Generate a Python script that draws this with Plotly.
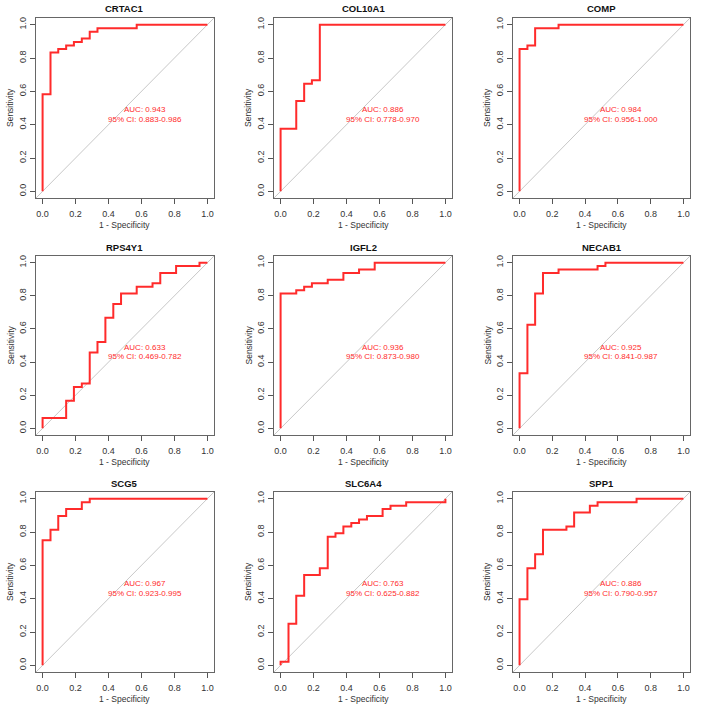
import plotly.graph_objects as go

genes = ["CRTAC1", "COL10A1", "COMP", "RPS4Y1", "IGFL2", "NECAB1", "SCG5", "SLC6A4", "SPP1"]
auc = [0.943, 0.886, 0.984, 0.633, 0.936, 0.925, 0.967, 0.763, 0.886]
ci_low = [0.883, 0.778, 0.956, 0.469, 0.873, 0.841, 0.923, 0.625, 0.790]
ci_high = [0.986, 0.970, 1.000, 0.782, 0.980, 0.987, 0.995, 0.882, 0.957]

# step corners of each ROC curve (1 - specificity, sensitivity)
crtac1_fpr = [0, 0, 0.048, 0.095, 0.143, 0.190, 0.238, 0.286, 0.333, 0.571, 1]
crtac1_tpr = [0, 0.583, 0.833, 0.854, 0.875, 0.896, 0.917, 0.958, 0.979, 1, 1]

col10a1_fpr = [0, 0, 0.095, 0.143, 0.190, 0.238, 1]
col10a1_tpr = [0, 0.375, 0.542, 0.646, 0.667, 1, 1]

comp_fpr = [0, 0, 0.048, 0.095, 0.238, 1]
comp_tpr = [0, 0.854, 0.875, 0.979, 1, 1]

rps4y1_fpr = [0, 0, 0.143, 0.190, 0.238, 0.286, 0.333, 0.381, 0.429, 0.476, 0.571, 0.667, 0.714, 0.810, 0.952, 1]
rps4y1_tpr = [0, 0.063, 0.167, 0.250, 0.271, 0.458, 0.521, 0.667, 0.750, 0.813, 0.854, 0.875, 0.938, 0.979, 1, 1]

igfl2_fpr = [0, 0, 0.095, 0.143, 0.190, 0.286, 0.381, 0.476, 0.571, 1]
igfl2_tpr = [0, 0.813, 0.833, 0.854, 0.875, 0.896, 0.938, 0.958, 1, 1]

necab1_fpr = [0, 0, 0.048, 0.095, 0.143, 0.238, 0.476, 0.524, 1]
necab1_tpr = [0, 0.333, 0.625, 0.813, 0.938, 0.958, 0.979, 1, 1]

scg5_fpr = [0, 0, 0.048, 0.095, 0.143, 0.238, 0.286, 1]
scg5_tpr = [0, 0.750, 0.813, 0.896, 0.938, 0.979, 1, 1]

slc6a4_fpr = [0, 0, 0.048, 0.095, 0.143, 0.238, 0.286, 0.333, 0.381, 0.429, 0.476, 0.524, 0.619, 0.667, 0.762, 1]
slc6a4_tpr = [0, 0.021, 0.250, 0.417, 0.542, 0.583, 0.771, 0.792, 0.833, 0.854, 0.875, 0.896, 0.938, 0.958, 0.979, 1]

spp1_fpr = [0, 0, 0.048, 0.095, 0.143, 0.286, 0.333, 0.429, 0.476, 0.714, 1]
spp1_tpr = [0, 0.396, 0.583, 0.667, 0.813, 0.833, 0.917, 0.958, 0.979, 1, 1]

curves = [
    (crtac1_fpr, crtac1_tpr), (col10a1_fpr, col10a1_tpr), (comp_fpr, comp_tpr),
    (rps4y1_fpr, rps4y1_tpr), (igfl2_fpr, igfl2_tpr), (necab1_fpr, necab1_tpr),
    (scg5_fpr, scg5_tpr), (slc6a4_fpr, slc6a4_tpr), (spp1_fpr, spp1_tpr),
]

tick_vals = [0, 0.2, 0.4, 0.6, 0.8, 1.0]
tick_text = ["0.0", "0.2", "0.4", "0.6", "0.8", "1.0"]

W, H = 706, 709
# plot box edges in pixels for each column / row
col_px = [(36, 214), (274, 452), (513, 690)]
row_px = [(18, 198), (256, 435), (492, 672)]

FONT = "Liberation Sans, Arial, sans-serif"
RED = "#ff2b2b"


def px(v):
    return v / W


def py(v):
    return 1 - v / H


def note(text, x, y, size, color, xref="paper", yref="paper", angle=0):
    return dict(text=text, x=x, y=y, xref=xref, yref=yref, showarrow=False,
                xanchor="center", yanchor="middle", textangle=angle,
                font=dict(size=size, color=color, family=FONT))


fig = go.Figure()
annotations = []
shapes = []
layout_axes = {}

for i, gene in enumerate(genes):
    r, c = divmod(i, 3)
    n = "" if i == 0 else str(i + 1)
    left, right = col_px[c]
    top, bottom = row_px[r]
    fpr, tpr = curves[i]

    fig.add_trace(go.Scatter(
        x=fpr, y=tpr, mode="lines", line=dict(color=RED, width=2, shape="hv"),
        xaxis="x" + n, yaxis="y" + n, showlegend=False, hoverinfo="skip"))

    common = dict(range=[-0.04, 1.04], tickvals=tick_vals, ticktext=tick_text,
                  ticks="outside", ticklen=5, tickcolor="#555", showline=True, mirror=True,
                  linecolor="#666", linewidth=1, showgrid=False, zeroline=False,
                  tickfont=dict(size=9, color="#333", family=FONT), fixedrange=True)
    layout_axes["xaxis" + n] = dict(common, domain=[px(left), px(right)], anchor="y" + n,
                                    ticklabelstandoff=2)
    layout_axes["yaxis" + n] = dict(common, domain=[py(bottom), py(top)],
                                    anchor="x" + n, tickangle=-90, ticklabelstandoff=0)

    shapes.append(dict(type="line", xref="x" + n + " domain", yref="y" + n + " domain",
                       x0=0, y0=0, x1=1, y1=1, line=dict(color="#c8c8c8", width=1), layer="below"))

    cx = px((left + right) / 2)
    annotations.append(note("<b>" + gene + "</b>", cx, py(top - 9), 9.5, "#111"))
    annotations.append(note("1 - Specificity", cx, py(bottom + 27), 8.5, "#333"))
    annotations.append(note("Sensitivity", px(left - 26), py((top + bottom) / 2),
                            8.5, "#333", angle=-90))
    annotations.append(note("AUC: %.3f" % auc[i], 0.62, 0.489, 8, RED, "x" + n, "y" + n))
    annotations.append(note("95%% CI: %.3f-%.3f" % (ci_low[i], ci_high[i]), 0.62, 0.432,
                            8, RED, "x" + n, "y" + n))

fig.update_layout(width=W, height=H, margin=dict(l=0, r=0, t=0, b=0),
                  paper_bgcolor="white", plot_bgcolor="white",
                  annotations=annotations, shapes=shapes, **layout_axes)

# drop the browser's default body margin so the figure fills the window
fig.write_html("out.html", config={"displayModeBar": False},
               post_script="document.body.style.margin = '0';")
